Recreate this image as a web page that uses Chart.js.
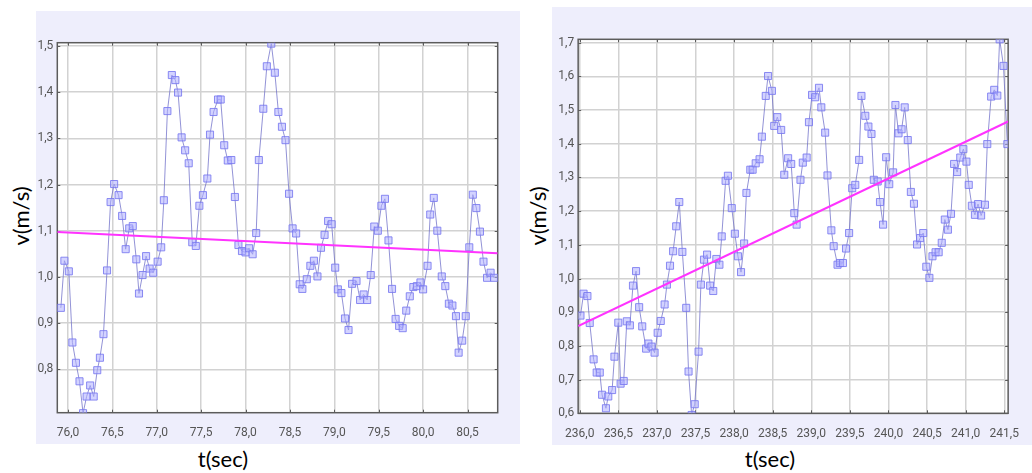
<!DOCTYPE html>
<html>
<head>
<meta charset="utf-8">
<script src="https://cdn.jsdelivr.net/npm/chart.js@4.4.1/dist/chart.umd.min.js"></script>
<style>
  body { margin: 0; width: 1032px; height: 473px; position: relative; overflow: hidden; background: #fff; }
  .panel { position: absolute; background: #eeeefc; }
  .axis-title { position: absolute; font-family: Lato, 'Open Sans', sans-serif; font-size: 22px; color: #000;
                white-space: nowrap; line-height: 1; transform: translate(-50%, -50%); }
  .axis-title.vertical { transform: translate(-50%, -50%) rotate(-90deg); }
</style>
</head>
<body>
<canvas id="leftChart" class="panel" width="484" height="433" style="left:36px;top:11px"></canvas>
<canvas id="rightChart" class="panel" width="480" height="438" style="left:552px;top:7px"></canvas>
<div class="axis-title vertical" style="left:21px;top:216px">v(m/s)</div>
<div class="axis-title" style="left:223px;top:459px">t(sec)</div>
<div class="axis-title vertical" style="left:538px;top:216px">v(m/s)</div>
<div class="axis-title" style="left:770px;top:459px">t(sec)</div>
<script>
// Left record (t in s, v in m/s)
const leftTime = [
  75.92, 75.96, 76.01, 76.05, 76.09, 76.13, 76.17, 76.21, 76.25, 76.29, 76.33, 76.36, 76.40, 76.44, 76.48, 76.52,
  76.57, 76.61, 76.65, 76.69, 76.73, 76.77, 76.80, 76.84, 76.88, 76.92, 76.96, 77.01, 77.05, 77.08, 77.12, 77.17,
  77.21, 77.24, 77.28, 77.32, 77.36, 77.40, 77.44, 77.48, 77.52, 77.57, 77.60, 77.64, 77.69, 77.72, 77.76, 77.80,
  77.84, 77.88, 77.92, 77.96, 78.00, 78.04, 78.08, 78.12, 78.15, 78.20, 78.24, 78.29, 78.33, 78.37, 78.41, 78.45,
  78.49, 78.53, 78.57, 78.61, 78.64, 78.69, 78.73, 78.77, 78.81, 78.85, 78.89, 78.93, 78.97, 79.01, 79.04, 79.08,
  79.12, 79.16, 79.20, 79.25, 79.29, 79.33, 79.37, 79.41, 79.45, 79.49, 79.53, 79.57, 79.61, 79.65, 79.69, 79.73,
  79.77, 79.81, 79.85, 79.89, 79.93, 79.97, 80.00, 80.05, 80.08, 80.12, 80.16, 80.21, 80.25, 80.29, 80.33, 80.37,
  80.40, 80.44, 80.48, 80.52, 80.56, 80.60, 80.64, 80.68, 80.72, 80.76, 80.80
];
const leftSpeed = [
  0.933, 1.035, 1.012, 0.858, 0.814, 0.774, 0.705, 0.741, 0.765, 0.741, 0.798, 0.825, 0.876, 1.014, 1.162, 1.201,
  1.177, 1.132, 1.060, 1.105, 1.110, 1.038, 0.964, 1.004, 1.045, 1.018, 1.009, 1.033, 1.064, 1.166, 1.359, 1.437,
  1.426, 1.399, 1.302, 1.274, 1.246, 1.075, 1.067, 1.154, 1.177, 1.213, 1.308, 1.357, 1.384, 1.384, 1.285, 1.252,
  1.253, 1.173, 1.069, 1.056, 1.053, 1.062, 1.049, 1.095, 1.253, 1.364, 1.456, 1.505, 1.442, 1.357, 1.325, 1.296,
  1.180, 1.105, 1.094, 0.984, 0.974, 0.995, 1.024, 1.035, 1.001, 1.063, 1.091, 1.121, 1.114, 1.020, 0.973, 0.965,
  0.910, 0.885, 0.985, 0.991, 0.950, 0.962, 0.950, 1.004, 1.109, 1.100, 1.154, 1.169, 1.079, 0.974, 0.909, 0.894,
  0.889, 0.927, 0.958, 0.978, 0.980, 0.988, 0.973, 1.024, 1.135, 1.171, 1.100, 1.001, 0.980, 0.942, 0.938, 0.915,
  0.836, 0.862, 0.915, 1.064, 1.178, 1.149, 1.098, 1.033, 0.998, 1.009, 0.998
];
const leftTrendTime = [75.88, 80.84];
const leftTrendSpeed = [1.097, 1.051];
const leftTimeRange = [75.88, 80.84];
const leftSpeedRange = [0.706, 1.507];

// Right record
const rightTime = [
  236.01, 236.05, 236.10, 236.13, 236.18, 236.22, 236.26, 236.29, 236.34, 236.37, 236.42, 236.45, 236.50, 236.53,
  236.57, 236.61, 236.65, 236.69, 236.73, 236.77, 236.81, 236.86, 236.89, 236.93, 236.97, 237.01, 237.05, 237.10,
  237.13, 237.17, 237.21, 237.25, 237.29, 237.33, 237.38, 237.41, 237.45, 237.49, 237.54, 237.57, 237.61, 237.65,
  237.69, 237.73, 237.77, 237.81, 237.84, 237.89, 237.92, 237.97, 238.01, 238.05, 238.09, 238.13, 238.16, 238.21,
  238.24, 238.28, 238.33, 238.36, 238.41, 238.44, 238.49, 238.52, 238.56, 238.61, 238.65, 238.70, 238.74, 238.78,
  238.81, 238.86, 238.89, 238.94, 238.97, 239.01, 239.05, 239.10, 239.13, 239.18, 239.21, 239.26, 239.29, 239.34,
  239.37, 239.41, 239.45, 239.49, 239.53, 239.57, 239.62, 239.65, 239.70, 239.74, 239.78, 239.81, 239.86, 239.89,
  239.93, 239.97, 240.01, 240.06, 240.09, 240.13, 240.17, 240.21, 240.25, 240.29, 240.33, 240.37, 240.41, 240.45,
  240.49, 240.53, 240.57, 240.61, 240.65, 240.69, 240.73, 240.77, 240.81, 240.85, 240.89, 240.93, 240.97, 241.01,
  241.04, 241.08, 241.12, 241.16, 241.20, 241.25, 241.28, 241.33, 241.37, 241.41, 241.44, 241.49, 241.54
];
const rightSpeed = [
  0.890, 0.955, 0.948, 0.868, 0.760, 0.721, 0.721, 0.655, 0.615, 0.650, 0.669, 0.768, 0.869, 0.688,
  0.696, 0.873, 0.861, 0.979, 1.022, 0.915, 0.858, 0.792, 0.807, 0.798, 0.780, 0.839, 0.874, 0.923,
  0.982, 1.038, 1.081, 1.155, 1.227, 1.079, 0.913, 0.724, 0.595, 0.627, 0.783, 0.982, 1.056, 1.071,
  0.979, 0.963, 1.058, 1.041, 1.125, 1.290, 1.305, 1.209, 1.133, 1.066, 1.019, 1.104, 1.254, 1.323,
  1.323, 1.342, 1.354, 1.421, 1.542, 1.601, 1.557, 1.453, 1.479, 1.441, 1.308, 1.357, 1.340, 1.194,
  1.160, 1.293, 1.344, 1.359, 1.464, 1.545, 1.538, 1.566, 1.508, 1.433, 1.306, 1.143, 1.096, 1.041,
  1.046, 1.046, 1.089, 1.135, 1.268, 1.278, 1.352, 1.542, 1.483, 1.451, 1.429, 1.293, 1.288, 1.227,
  1.160, 1.360, 1.280, 1.315, 1.515, 1.431, 1.443, 1.508, 1.411, 1.257, 1.222, 1.101, 1.120, 1.135,
  1.035, 1.002, 1.066, 1.078, 1.078, 1.106, 1.175, 1.145, 1.192, 1.340, 1.316, 1.359, 1.384, 1.347,
  1.278, 1.216, 1.189, 1.221, 1.187, 1.219, 1.399, 1.540, 1.560, 1.543, 1.710, 1.631, 1.399
];
const rightTrendTime = [235.98, 241.55];
const rightTrendSpeed = [0.859, 1.466];
const rightTimeRange = [235.98, 241.55];
const rightSpeedRange = [0.6, 1.71];

const commaLabel = v => v.toFixed(1).replace('.', ',');
const tickFont = { family: "'Liberation Sans Narrow', 'Arial Narrow', Roboto, sans-serif", size: 12 };

// white plot area + dark frame with small inward ticks
const plotFrame = {
    id: 'plotFrame',
    beforeDraw(chart) {
        const { ctx, chartArea: a } = chart;
        ctx.save();
        ctx.fillStyle = '#ffffff';
        ctx.fillRect(a.left, a.top, a.right - a.left, a.bottom - a.top);
        ctx.restore();
    },
    beforeDatasetsDraw(chart) {
        const { ctx, chartArea: a, scales } = chart;
        ctx.save();
        ctx.strokeStyle = '#5c5c5c';
        ctx.lineWidth = 1.5;
        ctx.strokeRect(a.left, a.top, a.right - a.left, a.bottom - a.top);
        ctx.lineWidth = 1;
        ctx.beginPath();
        scales.y.ticks.forEach(t => {
            const y = Math.round(scales.y.getPixelForValue(t.value)) + 0.5;
            ctx.moveTo(a.left, y); ctx.lineTo(a.left + 3, y);
            ctx.moveTo(a.right, y); ctx.lineTo(a.right - 3, y);
        });
        scales.x.ticks.forEach(t => {
            const x = Math.round(scales.x.getPixelForValue(t.value)) + 0.5;
            ctx.moveTo(x, a.top); ctx.lineTo(x, a.top + 3);
            ctx.moveTo(x, a.bottom); ctx.lineTo(x, a.bottom - 3);
        });
        ctx.stroke();
        ctx.restore();
    }
};

function makeChart(id, time, speed, trendTime, trendSpeed, timeRange, speedRange, pad, xHeight) {
    const ctx = document.getElementById(id).getContext('2d');
    return new Chart(ctx, {
        type: 'line',
        data: {
            datasets: [
                {
                    data: trendTime.map((t, i) => ({ x: t, y: trendSpeed[i] })),
                    borderColor: '#ff33ff',
                    borderWidth: 2,
                    pointRadius: 0,
                    tension: 0
                },
                {
                    data: time.map((t, i) => ({ x: t, y: speed[i] })),
                    borderColor: 'rgba(110, 110, 200, 0.75)',
                    borderWidth: 1,
                    tension: 0,
                    pointStyle: 'rect',
                    pointRadius: 5,
                    pointBorderWidth: 1,
                    pointBackgroundColor: 'rgba(175, 175, 255, 0.55)',
                    pointBorderColor: 'rgba(120, 120, 240, 0.85)'
                }
            ]
        },
        options: {
            responsive: false,
            animation: false,
            layout: { padding: pad },
            plugins: { legend: { display: false }, tooltip: { enabled: false } },
            scales: {
                x: {
                    type: 'linear',
                    min: timeRange[0],
                    max: timeRange[1],
                    afterFit: s => { s.height = xHeight; },
                    border: { display: false },
                    grid: { color: '#d2d2d2', lineWidth: 1.5, drawTicks: false },
                    ticks: { stepSize: 0.5, includeBounds: false, padding: 13, color: '#555', font: tickFont,
                             maxRotation: 0, autoSkip: false, callback: commaLabel }
                },
                y: {
                    min: speedRange[0],
                    max: speedRange[1],
                    afterFit: s => { s.width = 21.3; },
                    border: { display: false },
                    grid: { color: '#d2d2d2', lineWidth: 1.5, drawTicks: false },
                    ticks: { stepSize: 0.1, includeBounds: false, padding: 4, color: '#555', font: tickFont,
                             autoSkip: false, callback: commaLabel }
                }
            }
        },
        plugins: [plotFrame]
    });
}

makeChart('leftChart', leftTime, leftSpeed, leftTrendTime, leftTrendSpeed, leftTimeRange, leftSpeedRange,
          { top: 31.7, right: 22.3, left: 0, bottom: 0 }, 31.3);
makeChart('rightChart', rightTime, rightSpeed, rightTrendTime, rightTrendSpeed, rightTimeRange, rightSpeedRange,
          { top: 32.3, right: 11.7, left: 0, bottom: 0 }, 31.7);
</script>
</body>
</html>
